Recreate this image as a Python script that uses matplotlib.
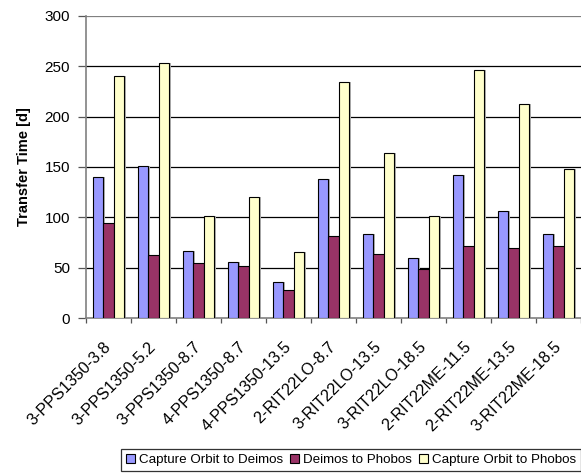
import matplotlib
matplotlib.use("Agg")
import matplotlib.pyplot as plt
from matplotlib.transforms import ScaledTranslation
import numpy as np

plt.rcParams['font.family'] = ['Liberation Sans', 'DejaVu Sans']

categories = ["3-PPS1350-3.8", "3-PPS1350-5.2", "3-PPS1350-8.7", "4-PPS1350-8.7",
              "4-PPS1350-13.5", "2-RIT22LO-8.7", "3-RIT22LO-13.5", "3-RIT22LO-18.5",
              "2-RIT22ME-11.5", "2-RIT22ME-13.5", "3-RIT22ME-18.5"]
capture_to_deimos = [140, 151, 67, 56, 36, 138, 83, 60, 142, 106, 83]
deimos_to_phobos = [94, 63, 55, 52, 28, 81, 64, 49, 72, 70, 72]
capture_to_phobos = [240, 253, 101, 120, 66, 234, 164, 101, 246, 213, 148]
series_names = ["Capture Orbit to Deimos", "Deimos to Phobos", "Capture Orbit to Phobos"]
colors = ["#9999FF", "#993366", "#FFFFCC"]
yticks = [0, 50, 100, 150, 200, 250, 300]

W, H = 581, 473
fig = plt.figure(figsize=(W / 100, H / 100), dpi=100)
ax = fig.add_axes([86 / W, 1 - 318 / H, 495 / W, 302 / H])

x = np.arange(len(categories))
bw = 0.23
handles = []
for i, (vals, c) in enumerate(zip([capture_to_deimos, deimos_to_phobos, capture_to_phobos], colors)):
    pos = x + (i - 1) * bw
    # soft drop shadow behind each bar
    ax.bar(pos + 0.035, vals, width=bw, color="#b0b0b0", edgecolor="none", zorder=2)
    b = ax.bar(pos, vals, width=bw, color=c, edgecolor="black", linewidth=0.8, zorder=3,
               label=series_names[i])
    handles.append(b)

ax.set_xlim(-0.5, len(categories) - 0.5)
ax.set_ylim(0, 300)
ax.set_yticks(yticks)
ax.set_yticklabels([str(v) for v in yticks], fontsize=11)
for v in yticks[1:]:
    ax.axhline(v, color="#808080" if v == 300 else "black", linewidth=0.9, zorder=1)

ax.set_xticks(x)
ax.set_xticklabels(categories, rotation=45, ha="right", va="center", rotation_mode="anchor",
                   fontsize=11.6)
shift = ScaledTranslation(-4 / 100, 0, fig.dpi_scale_trans)
for lbl in ax.get_xticklabels():
    lbl.set_transform(lbl.get_transform() + shift)
ax.set_xticks(np.arange(-0.5, len(categories), 1.0), minor=True)
ax.tick_params(axis="x", which="major", length=0, pad=19)
ax.tick_params(axis="x", which="minor", length=3.6, color="#555555", width=0.9)
ax.tick_params(axis="y", length=5.5, color="#555555", width=0.9, pad=6)

for s in ["top", "right"]:
    ax.spines[s].set_visible(False)
ax.spines["left"].set_color("#808080")
ax.spines["left"].set_linewidth(1.2)
ax.spines["bottom"].set_color("#808080")
ax.spines["bottom"].set_linewidth(1.2)

ax.set_ylabel("Transfer Time [d]", fontsize=10.5, fontweight="bold", labelpad=10)

leg = fig.legend(handles=handles, labels=series_names, loc="lower right", ncol=3,
                 bbox_to_anchor=(581 / W, 1 - 471 / H), fontsize=9.6,
                 frameon=True, fancybox=False, shadow=False, handlelength=0.7,
                 handleheight=0.7, handletextpad=0.3, columnspacing=0.5,
                 borderpad=0.35, borderaxespad=0)
leg.get_frame().set_edgecolor("black")
leg.get_frame().set_linewidth(0.9)

fig.savefig("out.png", dpi=100)
